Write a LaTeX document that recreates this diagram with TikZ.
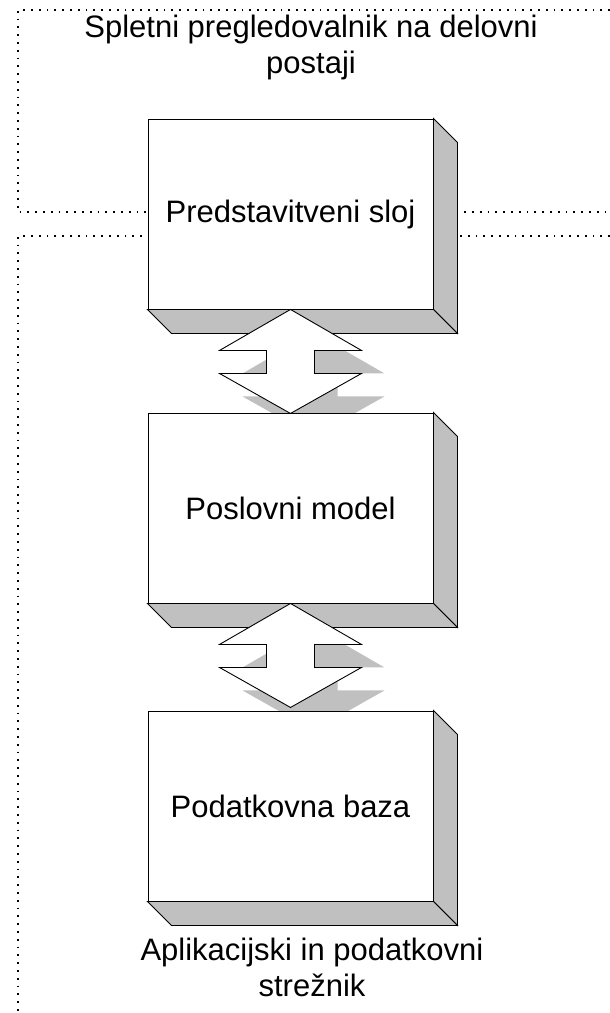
\documentclass[tikz,border=0pt]{standalone}
\usepackage{fontspec}
\setmainfont{Liberation Sans}
\definecolor{sidegray}{HTML}{C0C0C0}
\tikzset{
  layerbox/.style={draw=black, fill=white, line width=0.9pt, minimum width=285pt, minimum height=190pt, inner sep=0pt, font=\fontsize{31}{36}\selectfont},
  face/.style={fill=sidegray, draw=black, line width=0.9pt, line join=miter},
  zone/.style={draw=black, line width=1.8pt, dash pattern=on 1.8pt off 6pt},
  label/.style={font=\fontsize{31}{36}\selectfont, align=center, anchor=base, inner sep=0pt},
  arrowbody/.style={fill=white, draw=black, line width=0.9pt, line join=miter},
  arrowshadow/.style={fill=sidegray, draw=none}
}
\newcommand{\boxfaces}[1]{%
  \path[face] (#1.north east) -- ++(24,24) -- ([shift={(24,24)}]#1.south east) -- (#1.south east) -- cycle;
  \path[face] (#1.south west) -- ++(24,24) -- ([shift={(24,24)}]#1.south east) -- (#1.south east) -- cycle;
}
\newcommand{\dblarrow}{(0,0) -- (71,41) -- (24,41) -- (24,64) -- (71,64) -- (0,104) -- (-71,64) -- (-24,64) -- (-24,41) -- (-71,41) -- cycle}
\begin{document}
\begin{tikzpicture}[x=1pt, y=-1pt]
\useasboundingbox (0,0) rectangle (610,1013);
% zones
\coordinate (z1a) at (610,10);
\coordinate (z1b) at (18,10);
\coordinate (z1c) at (18,212);
\coordinate (z1d) at (610,212);
\draw[zone] (z1a) -- (z1b) -- (z1c) -- (z1d);
\coordinate (z2a) at (610,236);
\coordinate (z2b) at (18,236);
\coordinate (z2c) at (18,1013);
\draw[zone] (z2a) -- (z2b) -- (z2c);
% box 1
\node[layerbox] (b1) at (290.5,214) {Predstavitveni sloj};
\boxfaces{b1}
% arrow 1
\begin{scope}[shift={(b1.south)}]
  \begin{scope}[shift={(23,23)}]
    \path[arrowshadow] \dblarrow;
  \end{scope}
  \path[arrowbody] \dblarrow;
\end{scope}
% box 2
\node[layerbox] (b2) at (290.5,508) {Poslovni model};
\boxfaces{b2}
% arrow 2
\begin{scope}[shift={(b2.south)}]
  \begin{scope}[shift={(23,23)}]
    \path[arrowshadow] \dblarrow;
  \end{scope}
  \path[arrowbody] \dblarrow;
\end{scope}
% box 3
\node[layerbox] (b3) at (290.5,806) {Podatkovna baza};
\boxfaces{b3}
% labels (base anchor = baseline of last line)
\node[label] (title) at (311,73) {Spletni pregledovalnik na delovni\\postaji};
\node[label] (server) at (312,996) {Aplikacijski in podatkovni\\strežnik};
\end{tikzpicture}
\end{document}
